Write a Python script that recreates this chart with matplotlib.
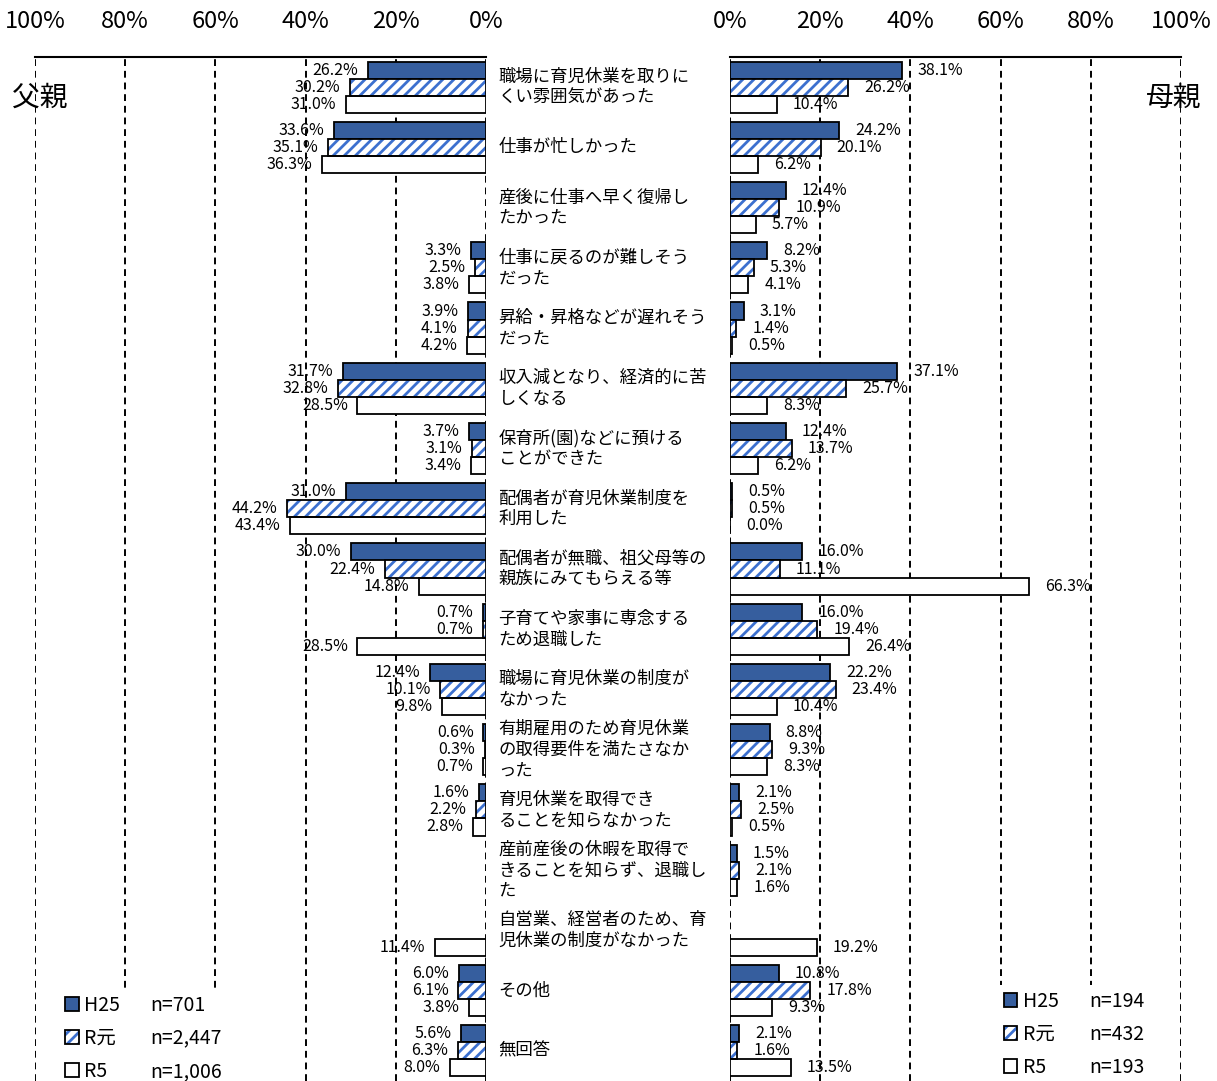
import numpy as np
import matplotlib
matplotlib.use("Agg")
import matplotlib.pyplot as plt
from matplotlib.patches import Rectangle

plt.rcParams['font.family'] = ['Noto Sans CJK JP', 'DejaVu Sans']
plt.rcParams['hatch.linewidth'] = 2.0

categories = [
    "職場に育児休業を取りに\nくい雰囲気があった",
    "仕事が忙しかった",
    "産後に仕事へ早く復帰し\nたかった",
    "仕事に戻るのが難しそう\nだった",
    "昇給・昇格などが遅れそう\nだった",
    "収入減となり、経済的に苦\nしくなる",
    "保育所(園)などに預ける\nことができた",
    "配偶者が育児休業制度を\n利用した",
    "配偶者が無職、祖父母等の\n親族にみてもらえる等",
    "子育てや家事に専念する\nため退職した",
    "職場に育児休業の制度が\nなかった",
    "有期雇用のため育児休業\nの取得要件を満たさなか\nった",
    "育児休業を取得でき\nることを知らなかった",
    "産前産後の休暇を取得で\nきることを知らず、退職し\nた",
    "自営業、経営者のため、育\n児休業の制度がなかった",
    "その他",
    "無回答",
]
nan = np.nan
series = ["H25", "R元", "R5"]
father_h25 = [26.2, 33.6, nan, 3.3, 3.9, 31.7, 3.7, 31.0, 30.0, 0.7, 12.4, 0.6, 1.6, nan, nan, 6.0, 5.6]
father_r1  = [30.2, 35.1, nan, 2.5, 4.1, 32.8, 3.1, 44.2, 22.4, 0.7, 10.1, 0.3, 2.2, nan, nan, 6.1, 6.3]
father_r5  = [31.0, 36.3, nan, 3.8, 4.2, 28.5, 3.4, 43.4, 14.8, 28.5, 9.8, 0.7, 2.8, nan, 11.4, 3.8, 8.0]
mother_h25 = [38.1, 24.2, 12.4, 8.2, 3.1, 37.1, 12.4, 0.5, 16.0, 16.0, 22.2, 8.8, 2.1, 1.5, nan, 10.8, 2.1]
mother_r1  = [26.2, 20.1, 10.9, 5.3, 1.4, 25.7, 13.7, 0.5, 11.1, 19.4, 23.4, 9.3, 2.5, 2.1, nan, 17.8, 1.6]
mother_r5  = [10.4, 6.2, 5.7, 4.1, 0.5, 8.3, 6.2, 0.0, 66.3, 26.4, 10.4, 8.3, 0.5, 1.6, 19.2, 9.3, 13.5]
father_n = ["n=701", "n=2,447", "n=1,006"]
mother_n = ["n=194", "n=432", "n=193"]
ticks = [0, 20, 40, 60, 80, 100]
tick_labels = ["0%", "20%", "40%", "60%", "80%", "100%"]

BLUE = "#365E9E"
HBLUE = "#3C70CF"

W, H = 1217, 1081
fig = plt.figure(figsize=(W / 100, H / 100), dpi=100)
top_px = 57
axh = (H - top_px) / H
axL = fig.add_axes([35 / W, 0, 451 / W, axh])
axR = fig.add_axes([730 / W, 0, 451 / W, axh])

n = len(categories)
y = np.arange(n)
bh = 0.283
offs = [-bh, 0, bh]


def panel(ax, vals, side, n_labels):
    ax.set_xlim(0, 100)
    if side == "L":
        ax.invert_xaxis()
    ax.set_ylim(n - 0.5, -0.5)
    for t in ticks:
        ax.axvline(t, color="black", lw=1.4, ls=(0, (3.5, 2.5)), zorder=0)
    handles = []
    for i, v in enumerate(vals):
        v = np.array(v, dtype=float)
        m = ~np.isnan(v)
        yy = y[m] + offs[i]
        if i == 0:
            b = ax.barh(yy, v[m], height=bh, color=BLUE, edgecolor="black", lw=1.3, zorder=2)
            handles.append(b.patches[0])
        elif i == 1:
            b1 = ax.barh(yy, v[m], height=bh, color="white", edgecolor=HBLUE, hatch="///", lw=0, zorder=2)
            b2 = ax.barh(yy, v[m], height=bh, color="none", edgecolor="black", lw=1.3, zorder=3)
            handles.append((b1.patches[0], b2.patches[0]))
        else:
            b = ax.barh(yy, v[m], height=bh, color="white", edgecolor="black", lw=1.3, zorder=2)
            handles.append(b.patches[0])
        for yi, vi in zip(yy, v[m]):
            if side == "L":
                ax.annotate(f"{vi:.1f}%", xy=(vi, yi), xytext=(-7, 0), textcoords="offset points",
                            ha="right", va="center", fontsize=11.5, zorder=4)
            else:
                ax.annotate(f"{vi:.1f}%", xy=(vi, yi), xytext=(11.5, 0), textcoords="offset points",
                            ha="left", va="center", fontsize=11.5, zorder=4)
    ax.set_yticks([])
    ax.xaxis.tick_top()
    ax.set_xticks(ticks)
    ax.set_xticklabels(tick_labels, fontsize=17)
    ax.tick_params(axis="x", length=0, pad=17)
    for s in ["left", "right", "bottom"]:
        ax.spines[s].set_visible(False)
    ax.spines["top"].set_linewidth(1.5)
    ax.patch.set_alpha(0)
    blank = [Rectangle((0, 0), 1, 1, fc="none", ec="none") for _ in range(3)]
    leg = ax.legend(handles + blank, series + n_labels, ncol=2, fontsize=14,
                    handlelength=0.7, handleheight=0.7, handletextpad=0.3,
                    columnspacing=0.55, labelspacing=0.62, borderpad=0.3,
                    frameon=True, fancybox=False, edgecolor="none", facecolor="white",
                    framealpha=1, loc="lower left",
                    bbox_to_anchor=(0.032 if side == "L" else 0.572,
                                    -0.016 if side == "L" else -0.012))
    leg.set_zorder(5)


panel(axL, [father_h25, father_r1, father_r5], "L", father_n)
panel(axR, [mother_h25, mother_r1, mother_r5], "R", mother_n)

for k, lab in enumerate(categories):
    axL.annotate(lab, xy=(1, k), xycoords=("axes fraction", "data"), xytext=(9, 0),
                 textcoords="offset points", ha="left", va="center", fontsize=12.5,
                 linespacing=1.2, annotation_clip=False)

fig.text(12 / W, 1 - 98 / H, "父親", fontsize=20, ha="left", va="center")
fig.text(1201 / W, 1 - 98 / H, "母親", fontsize=20, ha="right", va="center")

fig.savefig("out.png", dpi=100)
